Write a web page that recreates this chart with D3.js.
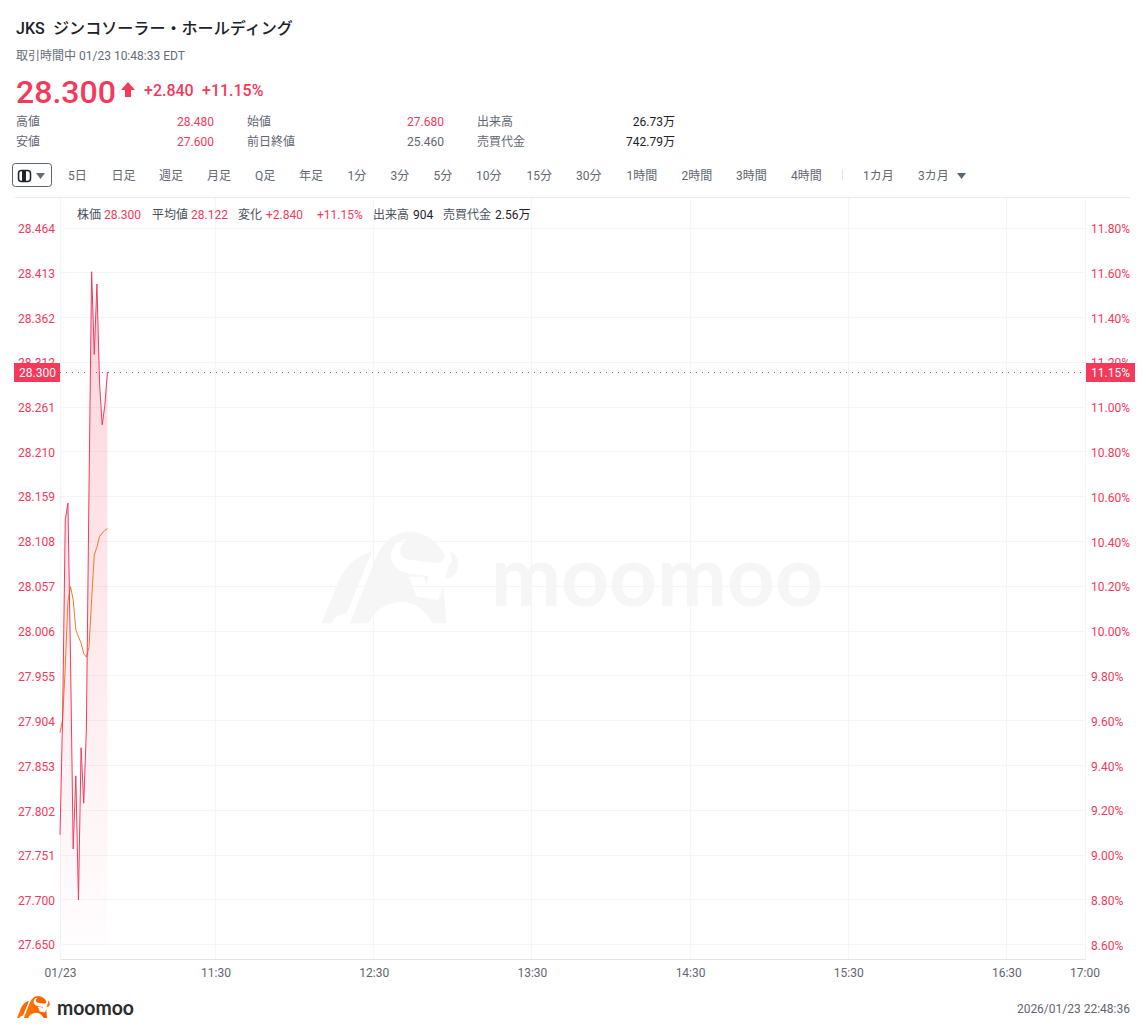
<!DOCTYPE html>
<html><head><meta charset="utf-8">
<script src="https://cdn.jsdelivr.net/npm/d3@7/dist/d3.min.js"></script>
<style>
html,body{margin:0;padding:0;background:#fff;overflow:hidden}
svg{display:block}
text{font-family:Roboto,"Noto Sans CJK JP",sans-serif}
</style></head><body><div id="c"></div>
<script>
// ---- data ----
const minutes = [0,1,2,3,4,5,6,7,8,9,10,11,12,13,14,15,16,17,18]; // minutes after 10:31
const price = [27.774,27.910,28.132,28.151,27.973,27.758,27.841,27.700,27.873,27.810,27.893,28.166,28.414,28.320,28.400,28.288,28.240,28.262,28.300];
const average = [27.890,27.905,27.965,28.039,28.056,28.041,28.007,27.999,27.992,27.980,27.976,27.987,28.041,28.092,28.101,28.113,28.117,28.120,28.122];
const priceTicks = ["27.650","27.700","27.751","27.802","27.853","27.904","27.955","28.006","28.057","28.108","28.159","28.210","28.261","28.312","28.362","28.413","28.464"];
const pctTicks = ["8.60","8.80","9.00","9.20","9.40","9.60","9.80","10.00","10.20","10.40","10.60","10.80","11.00","11.20","11.40","11.60","11.80"];
const timeMinutes = [0,59,119,179,239,299,359,389];
const timeLabels = ["01/23","11:30","12:30","13:30","14:30","15:30","16:30","17:00"];
const prevClose = 25.46, lastPrice = "28.300", lastPct = "11.15%";
const toolbarLabels = ["5日","日足","週足","月足","Q足","年足","1分","3分","5分","10分","15分","30分","1時間","2時間","3時間","4時間","1カ月","3カ月"];
const statRows = [["高値","28.480","始値","27.680","出来高","26.73万"],["安値","27.600","前日終値","25.460","売買代金","742.79万"]];
const infoItems = [["株価","k"],["28.300","r"],["平均値","k"],["28.122","r"],["変化","k"],["+2.840","r"],["+11.15%","r"],["出来高","k"],["904","b"],["売買代金","k"],["2.56万","b"]];

// ---- layout ----
const W=1146,H=1035,RED="#f4395b",GRID="#f5f5f6",GRAY="#5f6673";
const L=60,R=1086,T=197,B=959;
const svg=d3.select("#c").append("svg").attr("width",W).attr("height",H);
const x=d3.scaleLinear().domain([0,389]).range([L,R-0.5]);
const yPct=d3.scaleLinear().domain([8.6,11.8]).range([944.3,227.5]);
const yP=d3.scaleLinear().domain([prevClose*1.086,prevClose*1.118]).range([944.3,227.5]);

const txt=(s,xx,yy,o={})=>svg.append("text").text(s).attr("x",xx).attr("y",yy)
  .attr("font-size",o.size||12).attr("fill",o.fill||GRAY).attr("font-weight",o.weight||400)
  .attr("text-anchor",o.anchor||"start");

// ---- header ----
txt("JKS",16,33.5,{size:16,fill:"#1d2129",weight:500});
txt("ジンコソーラー・ホールディング",53,33.5,{size:16.07,fill:"#1d2129",weight:500});
txt("取引時間中 01/23 10:48:33 EDT",16,60,{fill:"#666c77"});
txt(lastPrice,16,103,{size:32,fill:RED,weight:500});
svg.append("path").attr("d","M128 82 L135 90 L131 90 L131 97 L125 97 L125 90 L121 90 Z").attr("fill",RED);
txt("+2.840",144,96,{size:16,fill:RED,weight:500});
txt("+11.15%",202,96,{size:16,fill:RED,weight:500});
const statX=[[16,214],[247,444],[477,675]];
statRows.forEach((r,i)=>{const yy=126+i*20;
  statX.forEach((c,j)=>{
    txt(r[j*2],c[0],yy,{fill:"#5f6673"});
    const isRed=j===0||(j===1&&i===0);
    txt(r[j*2+1],c[1],yy,{anchor:"end",fill:isRed?RED:(j===2?"#1d2129":"#5f6673")});
  });
});

// ---- toolbar ----
svg.append("rect").attr("x",12.5).attr("y",163.5).attr("width",39).attr("height",23).attr("rx",3).attr("fill","#fff").attr("stroke","#5b6472");
svg.append("rect").attr("x",18.5).attr("y",170.5).attr("width",12).attr("height",11).attr("rx",3).attr("fill","#fff").attr("stroke","#1d2129").attr("stroke-width",1.5);
svg.append("rect").attr("x",22).attr("y",170).attr("width",4).attr("height",12).attr("fill","#1d2129");
svg.append("path").attr("d","M36 173 L45 173 L40.5 179 Z").attr("fill","#666c77");
const toolbarX=[68,111.5,159,207,255,299,347.5,390.5,433.5,476,526.5,576,626.5,681.5,736,791,863,918];
toolbarLabels.forEach((s,i)=>txt(s,toolbarX[i],180,{fill:"#5f6673"}));
svg.append("line").attr("x1",842.5).attr("x2",842.5).attr("y1",169).attr("y2",180).attr("stroke","#e3e4e6");
svg.append("path").attr("d","M957 173 L966 173 L961.5 179 Z").attr("fill","#5f6673");
svg.append("line").attr("x1",15).attr("x2",1130).attr("y1",197.5).attr("y2",197.5).attr("stroke","#e9eaec");

// ---- watermark ----
const bullPaths=[
 "M65 340 L115 215 Q150 140 215 125 L140 310 Q105 312 95 340 Z",
 "M150 340 L225 150 Q260 65 330 65 Q405 70 435 140 Q428 162 400 158 L320 148 Q295 140 302 110 L320 90 Q280 85 272 140 Q280 180 320 190 L385 198 L380 225 L370 200 L325 200 L350 260 L415 270 L430 230 L440 340 L398 340 Q365 275 300 275 Q235 280 205 340 Z",
 "M450 122 Q485 145 470 185 Q460 205 435 205 L447 165 Q460 155 455 145 Z"];
const wm=svg.append("g").attr("transform","translate(300,510) scale(0.3333)");
bullPaths.forEach(d=>wm.append("path").attr("d",d).attr("fill","#f6f6f6"));
svg.append("text").text("moomoo").attr("x",491).attr("y",606).attr("font-size",84).attr("font-weight",700)
  .attr("fill","#f6f6f6").attr("textLength",332).attr("lengthAdjust","spacingAndGlyphs").style("font-family","Lato,Roboto,sans-serif");

// ---- grid & axes ----
const grid=svg.append("g");
pctTicks.forEach(t=>grid.append("line").attr("x1",L).attr("x2",R).attr("y1",Math.round(yPct(+t))+.5).attr("y2",Math.round(yPct(+t))+.5).attr("stroke",GRID));
timeMinutes.slice(1,-1).forEach(m=>grid.append("line").attr("x1",Math.floor(x(m))+.5).attr("x2",Math.floor(x(m))+.5).attr("y1",198).attr("y2",B).attr("stroke",GRID));
[L,R-1].forEach(v=>grid.append("line").attr("x1",v+.5).attr("x2",v+.5).attr("y1",198).attr("y2",B).attr("stroke",GRID));

const leftAxis=d3.axisLeft(yP).tickValues(priceTicks.map(Number)).tickFormat(d3.format(".3f")).tickSize(0).tickPadding(5);
const gl=svg.append("g").attr("transform",`translate(${L},0)`).call(leftAxis);
gl.select(".domain").remove();
gl.selectAll("text").attr("font-size",12).attr("fill",RED).attr("dy","4.9").style("font-family","Roboto");
const rightAxis=d3.axisRight(yPct).tickValues(pctTicks.map(Number)).tickFormat(d=>d.toFixed(2)+"%").tickSize(0).tickPadding(5);
const gr=svg.append("g").attr("transform",`translate(${R},0)`).call(rightAxis);
gr.select(".domain").remove();
gr.selectAll("text").attr("font-size",12).attr("fill",RED).attr("dy","4.9").style("font-family","Roboto");
const bottomAxis=d3.axisBottom(x).tickValues(timeMinutes).tickFormat((d,i)=>timeLabels[i]).tickSize(0).tickPadding(9);
const gb=svg.append("g").attr("transform",`translate(0,${B})`).call(bottomAxis);
gb.select(".domain").attr("stroke","#e3e4e6");
gb.selectAll("text").attr("font-size",12).attr("fill","#5f6673").style("font-family","Roboto");
gb.selectAll("text").filter((d,i)=>i===timeMinutes.length-1).attr("dx",-1);

// ---- series ----
const defs=svg.append("defs");
const grad=defs.append("linearGradient").attr("id","ga").attr("x1",0).attr("x2",0).attr("y1",0).attr("y2",1);
grad.append("stop").attr("offset",0).attr("stop-color",RED).attr("stop-opacity",.22);
grad.append("stop").attr("offset",1).attr("stop-color",RED).attr("stop-opacity",.01);
const pts=minutes.map((m,i)=>({m,p:price[i],a:average[i]}));
svg.append("path").datum(pts).attr("fill","url(#ga)")
  .attr("d",d3.area().x(d=>x(d.m)).y0(945).y1(d=>yP(d.p)));
svg.append("path").datum(pts).attr("fill","none").attr("stroke","#f77a1c").attr("stroke-width",1)
  .attr("d",d3.line().x(d=>x(d.m)).y(d=>yP(d.a)));
svg.append("path").datum(pts).attr("fill","none").attr("stroke",RED).attr("stroke-width",1)
  .attr("d",d3.line().x(d=>x(d.m)).y(d=>yP(d.p)));

// ---- last price marker ----
const yLast=Math.round(yP(+lastPrice));
svg.append("line").attr("x1",L).attr("x2",R).attr("y1",yLast+.5).attr("y2",yLast+.5).attr("stroke",RED).attr("stroke-dasharray","1 5");
svg.append("rect").attr("x",14).attr("y",yLast-9).attr("width",46).attr("height",19).attr("fill",RED);
txt(lastPrice,56,yLast+5,{anchor:"end",fill:"#fff"});
svg.append("rect").attr("x",R).attr("y",yLast-9).attr("width",49).attr("height",19).attr("fill",RED);
txt(lastPct,R+5,yLast+5,{fill:"#fff"});

// ---- info line ----
const infoX=[77,104,152,191,238,266,317,373,413,443,495];
const infoFill={k:"#4a505b",r:RED,b:"#1d2129"};
infoItems.forEach((it,i)=>txt(it[0],infoX[i],219,{fill:infoFill[it[1]]}));

// ---- footer ----
const og=defs.append("linearGradient").attr("id","og").attr("x1",0).attr("x2",1).attr("y1",0).attr("y2",0);
og.append("stop").attr("offset",0).attr("stop-color","#ff7a00");
og.append("stop").attr("offset",1).attr("stop-color","#ff5a00");
const fl=svg.append("g").attr("transform","translate(11.8,990.8) scale(0.08)");
bullPaths.forEach(d=>fl.append("path").attr("d",d).attr("fill","url(#og)"));
svg.append("text").text("moomoo").attr("x",57).attr("y",1015).attr("font-size",20).attr("font-weight",700)
  .attr("fill","#2b2b2e").attr("textLength",77).attr("lengthAdjust","spacingAndGlyphs").style("font-family","Lato,Roboto,sans-serif");
txt("2026/01/23 22:48:36",1130,1013,{anchor:"end",fill:"#5f6673"});
</script></body></html>
